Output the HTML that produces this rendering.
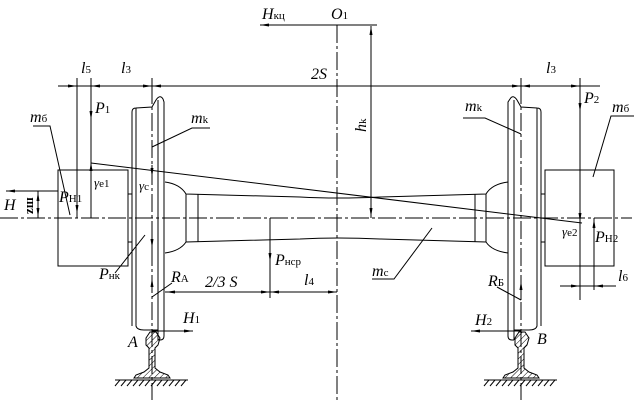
<!DOCTYPE html>
<html><head><meta charset="utf-8"><style>
html,body{margin:0;padding:0;background:#fff}
svg{display:block}
text{font-family:"Liberation Serif",serif;font-style:italic;font-size:16px;fill:#000}
.s{font-style:normal;font-size:11px}
</style></head><body>
<svg width="644" height="404" viewBox="0 0 644 404" xmlns="http://www.w3.org/2000/svg">
<defs>
<marker id="a" markerWidth="10" markerHeight="6" refX="9" refY="3" orient="auto" markerUnits="userSpaceOnUse">
<path d="M0,1.5 L9,3 L0,4.5 z" fill="#000"/></marker>
<pattern id="h" width="4" height="4" patternUnits="userSpaceOnUse" patternTransform="rotate(45)"><line x1="0" y1="0" x2="0" y2="4" stroke="#000" stroke-width="1"/></pattern>
</defs>
<g stroke="#000" stroke-width="1" fill="none">
<line x1="0" y1="218" x2="632" y2="218" stroke-dasharray="18,3,3,3"/>
<line x1="337" y1="25" x2="337" y2="400" stroke-dasharray="18,3,3,3"/>
<line x1="152" y1="86" x2="152" y2="400" stroke-dasharray="18,3,3,3"/>
<line x1="521" y1="86" x2="521" y2="400" stroke-dasharray="18,3,3,3"/>
<line x1="377" y1="25" x2="260" y2="25" marker-end="url(#a)"/>
<line x1="371" y1="218" x2="371" y2="26" marker-end="url(#a)"/>
<line x1="371" y1="26" x2="371" y2="217" marker-end="url(#a)"/>
<line x1="58" y1="86" x2="600" y2="86"/>
<line x1="77" y1="78" x2="77" y2="218"/>
<line x1="91" y1="78" x2="91" y2="218"/>
<line x1="580" y1="78" x2="580" y2="300"/>
<line x1="152" y1="78" x2="152" y2="90"/>
<line x1="521" y1="78" x2="521" y2="90"/>
<line x1="67" y1="86" x2="77" y2="86" marker-end="url(#a)"/>
<line x1="101" y1="86" x2="91" y2="86" marker-end="url(#a)"/>
<line x1="140" y1="86" x2="152" y2="86" marker-end="url(#a)"/>
<line x1="164" y1="86" x2="152" y2="86" marker-end="url(#a)"/>
<line x1="509" y1="86" x2="521" y2="86" marker-end="url(#a)"/>
<line x1="533" y1="86" x2="521" y2="86" marker-end="url(#a)"/>
<line x1="568" y1="86" x2="580" y2="86" marker-end="url(#a)"/>
<path d="M132,326 L132,112 Q132,108 136,108 L152,107 L156,100 Q160,94 163,99 L164,102 L164,336 Q164,340 160,340 L158,340"/>
<path d="M136,108 L136,326 Q137,330 144,330 L158,330"/>
<line x1="158" y1="100" x2="158" y2="340"/>
<path d="M541,326 L541,112 Q541,108 537,108 L521,107 L517,100 Q513,94 510,99 L508,102 L508,336 Q508,340 512,340 L514,340"/>
<path d="M537,108 L537,326 Q536,330 529,330 L514,330"/>
<line x1="514" y1="100" x2="514" y2="340"/>
<path d="M165,182 Q180,184 186,194 L300,197 Q337,199 380,197 L486,194 Q492,184 508,182"/>
<path d="M165,253 Q180,251 186,242 L300,239 Q337,237 380,239 L486,242 Q492,251 508,253"/>
<line x1="186" y1="194" x2="186" y2="242"/><line x1="198" y1="194" x2="198" y2="242"/>
<line x1="475" y1="194" x2="475" y2="242"/><line x1="486" y1="194" x2="486" y2="242"/>
<rect x="58" y="170" width="70" height="96"/>
<rect x="128" y="194" width="4" height="48"/>
<rect x="545" y="170" width="69" height="96"/>
<rect x="541" y="194" width="4" height="48"/>
<line x1="91" y1="163" x2="582" y2="223"/>
<path d="M146,338 L150,332 L156,332 L160,338 L158,345 L155,348 L155,368 L160,372 L168,375 L170,378 L134,378 L136,375 L144,372 L149,368 L149,348 L146,345 Z" fill="url(#h)"/>
<line x1="115" y1="380" x2="188" y2="380"/>
<path d="M115,386 l5,-6 M121,386 l5,-6 M127,386 l5,-6 M133,386 l5,-6 M139,386 l5,-6 M145,386 l5,-6 M151,386 l5,-6 M157,386 l5,-6 M163,386 l5,-6 M169,386 l5,-6 M175,386 l5,-6 M181,386 l5,-6"/>
<path d="M515,338 L519,332 L525,332 L529,338 L527,345 L524,348 L524,368 L529,372 L537,375 L539,378 L503,378 L505,375 L513,372 L518,368 L518,348 L515,345 Z" fill="url(#h)"/>
<line x1="484" y1="380" x2="557" y2="380"/>
<path d="M484,386 l5,-6 M490,386 l5,-6 M496,386 l5,-6 M502,386 l5,-6 M508,386 l5,-6 M514,386 l5,-6 M520,386 l5,-6 M526,386 l5,-6 M532,386 l5,-6 M538,386 l5,-6 M544,386 l5,-6 M550,386 l5,-6"/>
<line x1="58" y1="191" x2="6" y2="191" marker-end="url(#a)"/>
<line x1="38" y1="191" x2="38" y2="218"/>
<line x1="38" y1="205" x2="38" y2="192" marker-end="url(#a)"/>
<line x1="38" y1="205" x2="38" y2="217" marker-end="url(#a)"/>
<line x1="91" y1="100" x2="91" y2="120" marker-end="url(#a)"/>
<line x1="91" y1="172" x2="91" y2="162" marker-end="url(#a)"/>
<line x1="77" y1="200" x2="77" y2="214" marker-end="url(#a)"/>
<line x1="152" y1="165" x2="152" y2="177" marker-end="url(#a)"/>
<line x1="152" y1="235" x2="152" y2="248" marker-end="url(#a)"/>
<line x1="152" y1="292" x2="152" y2="278" marker-end="url(#a)"/>
<line x1="152" y1="331" x2="193" y2="331" marker-end="url(#a)"/>
<line x1="270" y1="218" x2="270" y2="298"/>
<line x1="270" y1="245" x2="270" y2="262" marker-end="url(#a)"/>
<line x1="165" y1="292" x2="337" y2="292"/>
<line x1="177" y1="292" x2="166" y2="292" marker-end="url(#a)"/>
<line x1="258" y1="292" x2="270" y2="292" marker-end="url(#a)"/>
<line x1="282" y1="292" x2="270" y2="292" marker-end="url(#a)"/>
<line x1="325" y1="292" x2="337" y2="292" marker-end="url(#a)"/>
<line x1="580" y1="95" x2="580" y2="112" marker-end="url(#a)"/>
<line x1="580" y1="205" x2="580" y2="222" marker-end="url(#a)"/>
<line x1="594" y1="290" x2="594" y2="218"/>
<line x1="594" y1="232" x2="594" y2="219" marker-end="url(#a)"/>
<line x1="560" y1="286" x2="616" y2="286"/>
<line x1="568" y1="286" x2="580" y2="286" marker-end="url(#a)"/>
<line x1="606" y1="286" x2="594" y2="286" marker-end="url(#a)"/>
<line x1="521" y1="300" x2="521" y2="281" marker-end="url(#a)"/>
<line x1="521" y1="331" x2="471" y2="331" marker-end="url(#a)"/>
<path d="M33,126 L50,126 L70,215"/>
<path d="M210,128 L192,128 L152,147"/>
<path d="M463,118 L485,118 L521,134"/>
<path d="M634,116 L611,116 L593,177"/>
<path d="M372,279 L394,279 L432,228"/>
<path d="M115,273 L145,235"/>
<path d="M172,283 L152,297"/>
<path d="M497,287 L521,300"/>
</g>
<text x="262" y="19">H<tspan class="s">кц</tspan></text>
<text x="331" y="19">O<tspan class="s">1</tspan></text>
<text x="311" y="79">2S</text>
<text x="81" y="73">l<tspan class="s">5</tspan></text>
<text x="121" y="73">l<tspan class="s">3</tspan></text>
<text x="546" y="73">l<tspan class="s">3</tspan></text>
<text transform="translate(366,132) rotate(-90)">h<tspan class="s">k</tspan></text>
<text x="95" y="113">P<tspan class="s">1</tspan></text>
<text x="584" y="103">P<tspan class="s">2</tspan></text>
<text x="30" y="122">m<tspan class="s">б</tspan></text>
<text x="612" y="112">m<tspan class="s">б</tspan></text>
<text x="191" y="123">m<tspan class="s">k</tspan></text>
<text x="465" y="111">m<tspan class="s">k</tspan></text>
<text x="372" y="276">m<tspan class="s">c</tspan></text>
<text x="94" y="187" style="font-size:13px">γ<tspan class="s">e1</tspan></text>
<text x="139" y="190" style="font-size:13px">γ<tspan class="s">c</tspan></text>
<text x="562" y="236" style="font-size:13px">γ<tspan class="s">e2</tspan></text>
<text x="59" y="202">P<tspan class="s">H1</tspan></text>
<text x="595" y="242">P<tspan class="s">H2</tspan></text>
<text x="4" y="210">H</text>
<text transform="translate(33,214) rotate(-90)" style="font-style:normal;font-weight:bold;font-size:13px">zш</text>
<text x="99" y="279">P<tspan class="s">нк</tspan></text>
<text x="171" y="282">R<tspan class="s">A</tspan></text>
<text x="488" y="286">R<tspan class="s">Б</tspan></text>
<text x="205" y="287">2/3 S</text>
<text x="275" y="265">P<tspan class="s">нср</tspan></text>
<text x="304" y="285">l<tspan class="s">4</tspan></text>
<text x="618" y="281">l<tspan class="s">6</tspan></text>
<text x="183" y="323">H<tspan class="s">1</tspan></text>
<text x="475" y="325">H<tspan class="s">2</tspan></text>
<text x="128" y="347">A</text>
<text x="537" y="344">B</text>
</svg>
</body></html>
